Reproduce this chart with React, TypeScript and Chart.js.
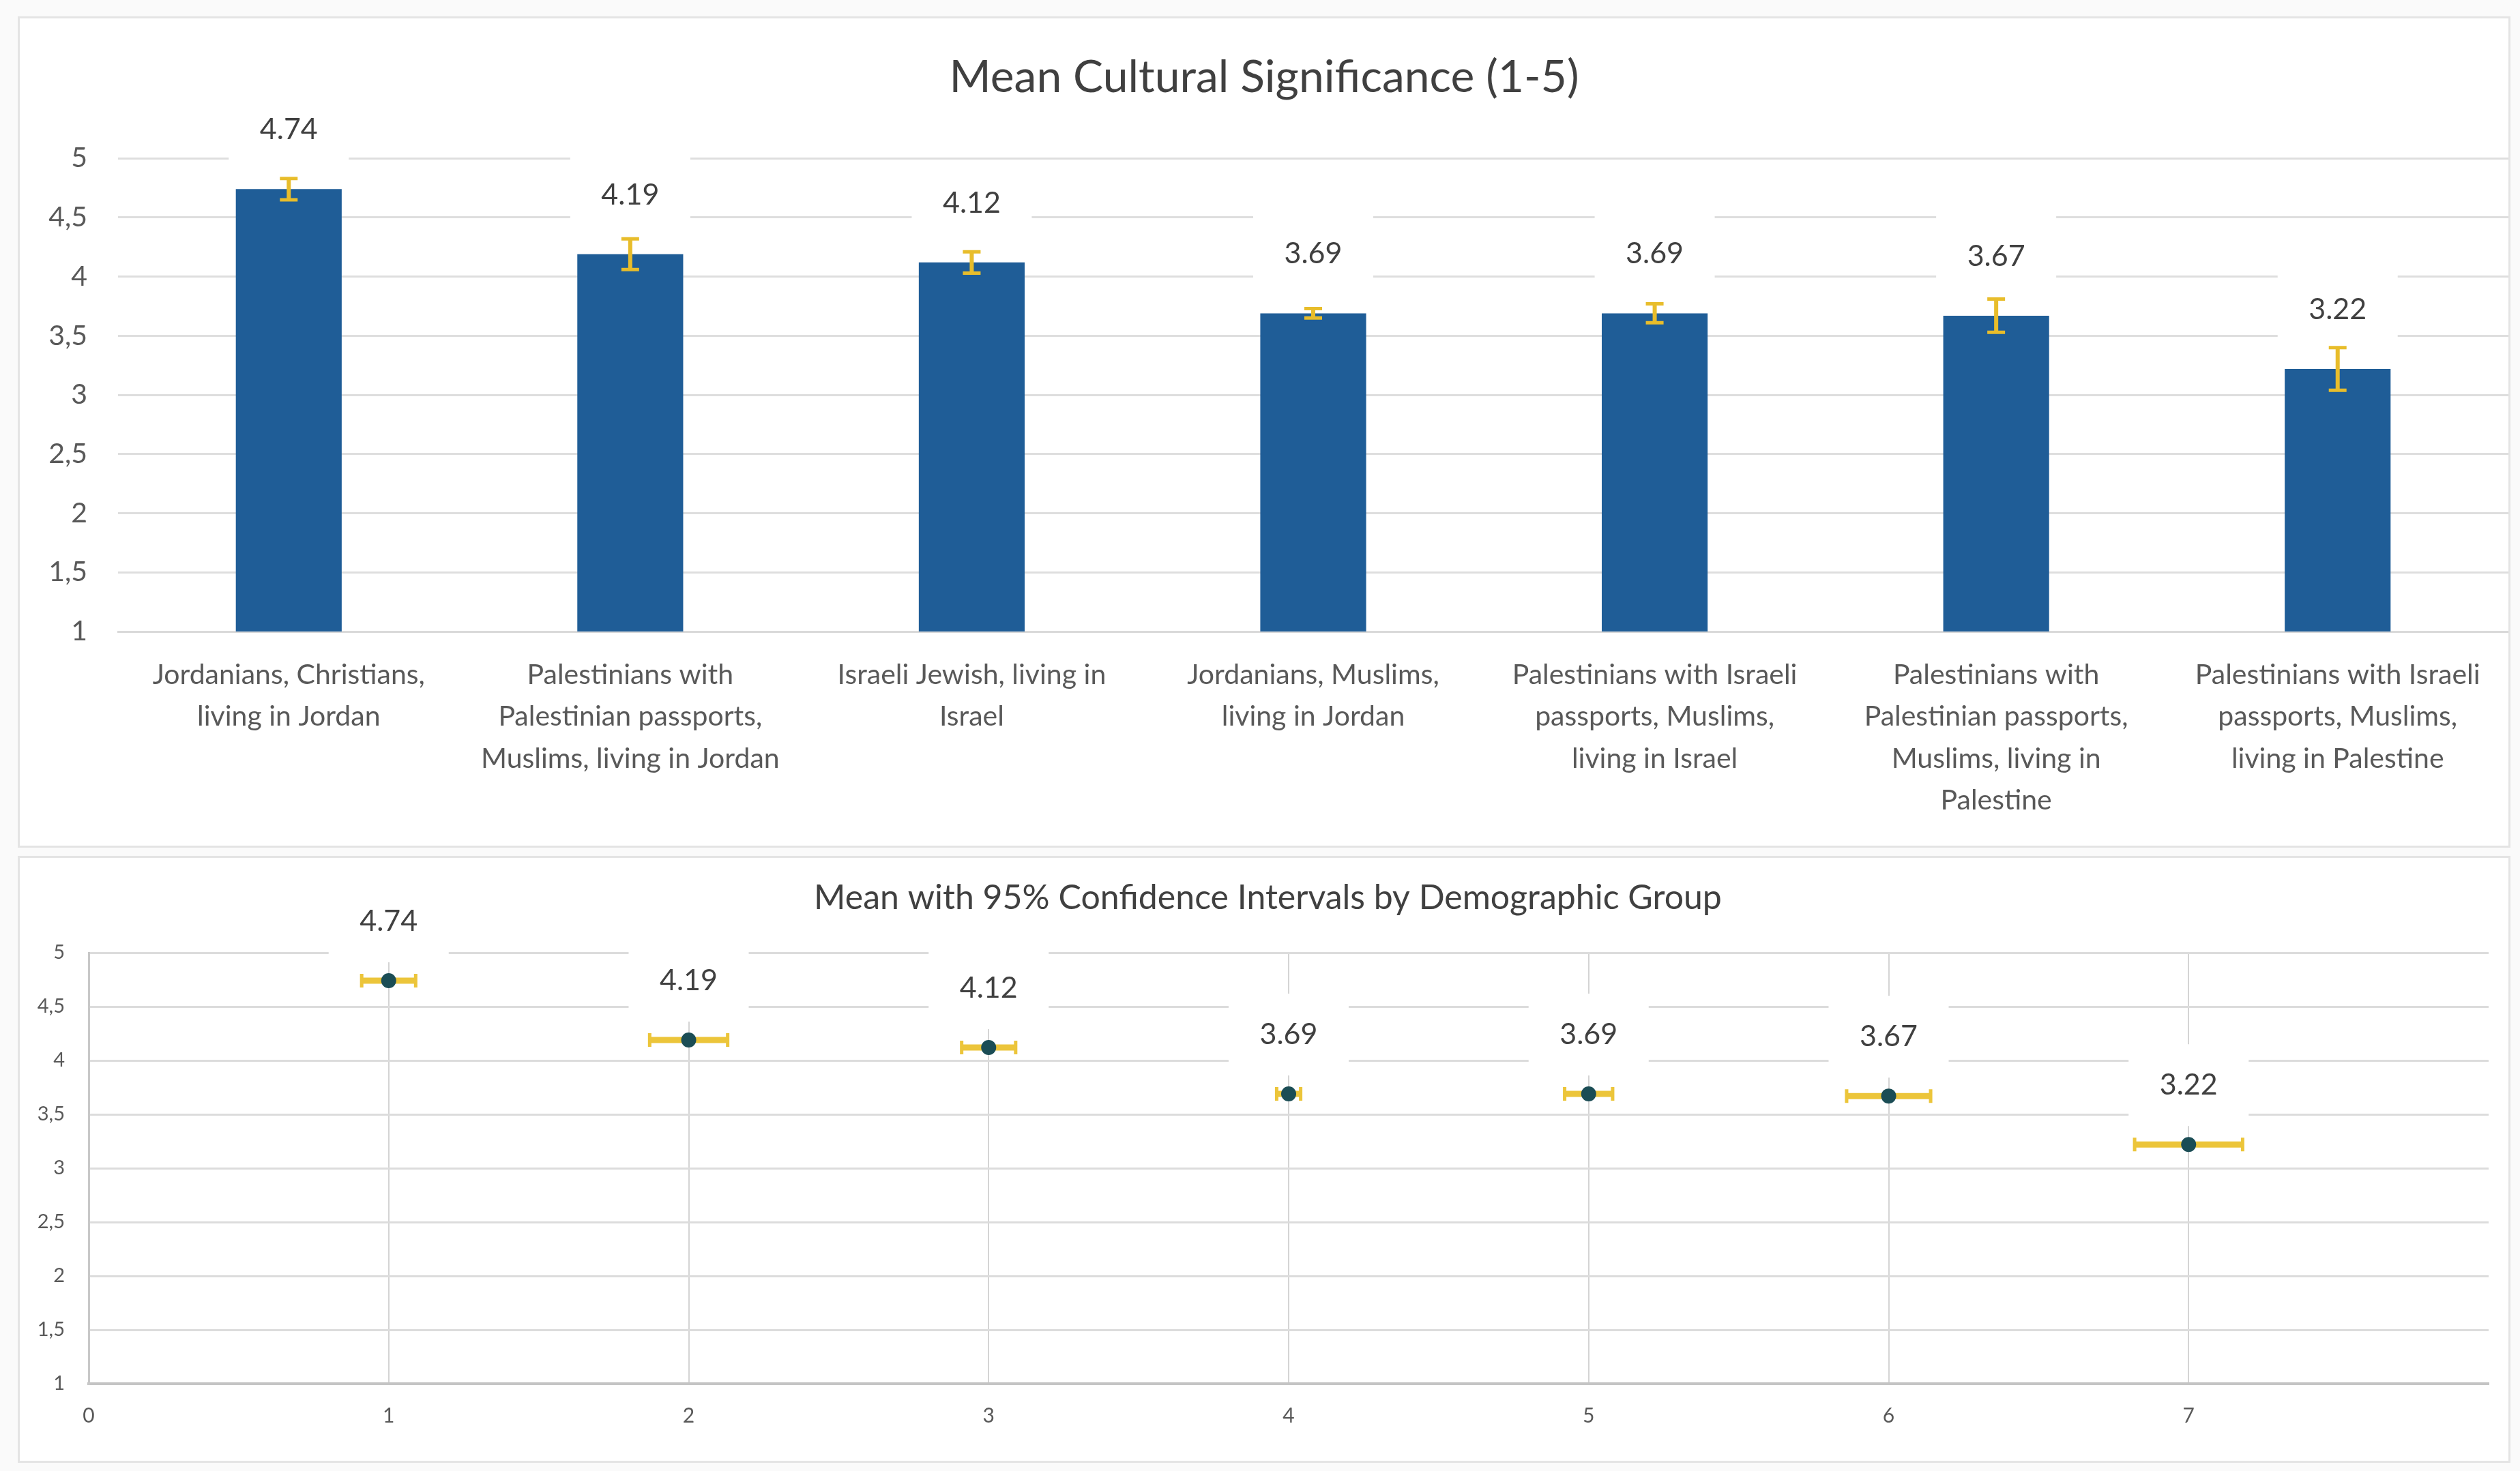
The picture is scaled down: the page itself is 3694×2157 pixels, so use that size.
import { useEffect, useRef } from 'react'
import Chart from 'chart.js/auto'
import type { Plugin } from 'chart.js'

// demographic groups (multi-line axis labels)
const groups = [
  ['Jordanians, Christians,', 'living in Jordan'],
  ['Palestinians with', 'Palestinian passports,', 'Muslims, living in Jordan'],
  ['Israeli Jewish, living in', 'Israel'],
  ['Jordanians, Muslims,', 'living in Jordan'],
  ['Palestinians with Israeli', 'passports, Muslims,', 'living in Israel'],
  ['Palestinians with', 'Palestinian passports,', 'Muslims, living in', 'Palestine'],
  ['Palestinians with Israeli', 'passports, Muslims,', 'living in Palestine'],
]
const means = [4.74, 4.19, 4.12, 3.69, 3.69, 3.67, 3.22]
const ci95 = [0.09, 0.13, 0.09, 0.04, 0.08, 0.14, 0.18]
const groupNumbers = [1, 2, 3, 4, 5, 6, 7]

const FONT = 'Lato'
const TEXT = '#404040'
const TICK = '#595959'
const GOLD = '#e8bd2b'

const commaTick = (v: string | number) => String(v).replace('.', ',')

// white box + value text above each mark
const valueLabels: Plugin = {
  id: 'valueLabels',
  beforeDatasetsDraw(chart) {
    const { ctx } = chart
    const meta = chart.getDatasetMeta(0)
    ctx.save()
    meta.data.forEach((el, i) => {
      const cy = el.y - 87
      ctx.fillStyle = '#ffffff'
      ctx.fillRect(el.x - 88, cy - 60, 176, 120)
      ctx.fillStyle = TEXT
      ctx.font = `43px ${FONT}`
      ctx.textAlign = 'center'
      ctx.textBaseline = 'middle'
      ctx.fillText(means[i].toFixed(2), el.x, cy)
    })
    ctx.restore()
  },
}

const verticalErrors: Plugin = {
  id: 'verticalErrors',
  afterDatasetsDraw(chart) {
    const { ctx } = chart
    const y = chart.scales.y
    const meta = chart.getDatasetMeta(0)
    ctx.save()
    ctx.strokeStyle = GOLD
    meta.data.forEach((el, i) => {
      const top = y.getPixelForValue(means[i] + ci95[i])
      const bottom = y.getPixelForValue(means[i] - ci95[i])
      ctx.lineWidth = 6
      ctx.beginPath()
      ctx.moveTo(el.x, top)
      ctx.lineTo(el.x, bottom)
      ctx.stroke()
      ctx.lineWidth = 5
      ctx.beginPath()
      ctx.moveTo(el.x - 13, top)
      ctx.lineTo(el.x + 13, top)
      ctx.moveTo(el.x - 13, bottom)
      ctx.lineTo(el.x + 13, bottom)
      ctx.stroke()
    })
    ctx.restore()
  },
}

const horizontalErrors: Plugin = {
  id: 'horizontalErrors',
  beforeDatasetsDraw(chart) {
    const { ctx } = chart
    const x = chart.scales.x
    const y = chart.scales.y
    ctx.save()
    ctx.strokeStyle = '#ecc53a'
    groupNumbers.forEach((g, i) => {
      const py = y.getPixelForValue(means[i])
      const left = x.getPixelForValue(g - ci95[i])
      const right = x.getPixelForValue(g + ci95[i])
      ctx.lineWidth = 9
      ctx.beginPath()
      ctx.moveTo(left, py)
      ctx.lineTo(right, py)
      ctx.stroke()
      ctx.lineWidth = 5
      ctx.beginPath()
      ctx.moveTo(left, py - 10)
      ctx.lineTo(left, py + 10)
      ctx.moveTo(right, py - 10)
      ctx.lineTo(right, py + 10)
      ctx.stroke()
    })
    ctx.restore()
  },
}

function BarPanel() {
  const canvasRef = useRef<HTMLCanvasElement | null>(null)

  useEffect(() => {
    if (!canvasRef.current) return
    const chart = new Chart(canvasRef.current, {
      type: 'bar',
      data: {
        labels: groups,
        datasets: [
          {
            label: 'Mean',
            data: means,
            backgroundColor: '#1f5d97',
            barPercentage: 0.31,
            categoryPercentage: 1,
          },
        ],
      },
      options: {
        animation: false,
        responsive: true,
        maintainAspectRatio: false,
        events: [],
        layout: { padding: 0 },
        plugins: {
          legend: { display: false },
          tooltip: { enabled: false },
          title: {
            display: true,
            text: 'Mean Cultural Significance (1-5)',
            color: TEXT,
            font: { family: FONT, size: 66, weight: 'normal', lineHeight: 1.2 },
            padding: { top: 47, bottom: 79 },
          },
        },
        scales: {
          x: {
            grid: { display: false },
            border: { display: true, color: '#d9d9d9', width: 3 },
            ticks: {
              color: TICK,
              font: { family: FONT, size: 41, lineHeight: 1.5 },
              padding: 25,
              maxRotation: 0,
              autoSkip: false,
            },
            afterFit: (scale) => {
              scale.height = 314
            },
          },
          y: {
            min: 1,
            max: 5,
            border: { display: false },
            grid: { color: '#dedede', lineWidth: 3, drawTicks: false },
            ticks: {
              stepSize: 0.5,
              color: TICK,
              font: { family: FONT, size: 41 },
              padding: 45,
              callback: (v) => commaTick(v),
            },
            afterFit: (scale) => {
              scale.width = 144
            },
          },
        },
      },
      plugins: [valueLabels, verticalErrors],
    })
    return () => chart.destroy()
  }, [])

  return <canvas ref={canvasRef} />
}

function IntervalPanel() {
  const canvasRef = useRef<HTMLCanvasElement | null>(null)

  useEffect(() => {
    if (!canvasRef.current) return
    const chart = new Chart(canvasRef.current, {
      type: 'scatter',
      data: {
        datasets: [
          {
            label: 'Mean',
            data: groupNumbers.map((g, i) => ({ x: g, y: means[i] })),
            pointRadius: 11,
            pointBackgroundColor: '#1b4d55',
            pointBorderWidth: 0,
            showLine: false,
          },
        ],
      },
      options: {
        animation: false,
        responsive: true,
        maintainAspectRatio: false,
        events: [],
        // x = 8 sits just past the panel edge, as in the source
        layout: { padding: { left: 0, top: 0, bottom: 0, right: -11 } },
        plugins: {
          legend: { display: false },
          tooltip: { enabled: false },
          title: {
            display: true,
            text: 'Mean with 95% Confidence Intervals by Demographic Group',
            color: TEXT,
            font: { family: FONT, size: 50, weight: 'normal', lineHeight: 1.2 },
            padding: { top: 29, bottom: 50 },
          },
        },
        scales: {
          x: {
            type: 'linear',
            min: 0,
            max: 8,
            border: { display: true, color: '#c4c4c4', width: 4 },
            grid: {
              color: (c) => (c.tick.value === 0 || c.tick.value === 8 ? 'rgba(0,0,0,0)' : '#d4d4d4'),
              lineWidth: 2,
              drawTicks: false,
            },
            ticks: {
              stepSize: 1,
              color: TICK,
              font: { family: FONT, size: 30 },
              padding: 29,
              callback: (v) => (v === 8 ? '' : String(v)),
            },
            afterFit: (scale) => {
              scale.height = 113
            },
          },
          y: {
            min: 1,
            max: 5,
            border: { display: true, color: '#c8c8c8', width: 3 },
            grid: { color: '#dcdcdc', lineWidth: 3, drawTicks: false },
            ticks: {
              stepSize: 0.5,
              color: TICK,
              font: { family: FONT, size: 29 },
              padding: 35,
              callback: (v) => commaTick(v),
            },
            afterFit: (scale) => {
              scale.width = 101
            },
          },
        },
      },
      plugins: [valueLabels, horizontalErrors],
    })
    return () => chart.destroy()
  }, [])

  return <canvas ref={canvasRef} />
}

const panelStyle: React.CSSProperties = {
  position: 'absolute',
  left: 26,
  width: 3654,
  border: '3px solid #e4e4e4',
  boxSizing: 'border-box',
  background: '#ffffff',
}

export default function App() {
  return (
    <div style={{ position: 'fixed', left: 0, top: 0, width: 3694, height: 2157, background: '#fafafa' }}>
      <div style={{ ...panelStyle, top: 24, height: 1219 }}>
        <div style={{ position: 'relative', width: '100%', height: '100%' }}>
          <BarPanel />
        </div>
      </div>
      <div style={{ ...panelStyle, top: 1255, height: 890, overflow: 'hidden' }}>
        <div style={{ position: 'relative', width: '100%', height: '100%' }}>
          <IntervalPanel />
        </div>
      </div>
    </div>
  )
}
